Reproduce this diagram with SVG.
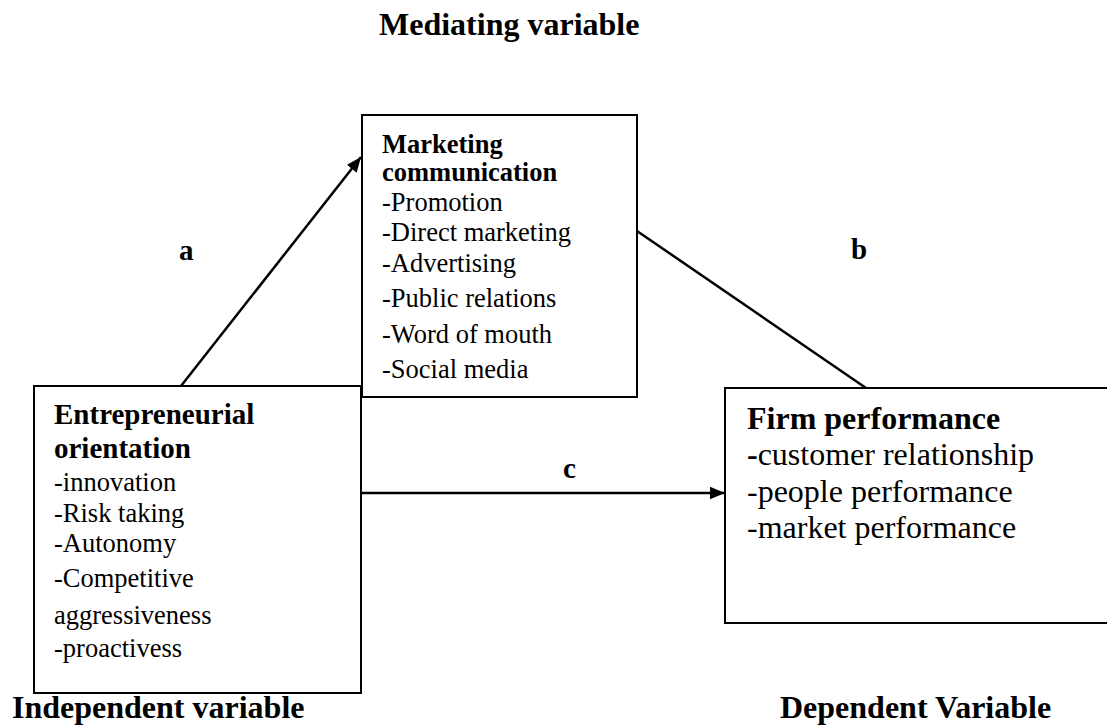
<svg xmlns="http://www.w3.org/2000/svg" width="1107" height="728" viewBox="0 0 1107 728">
<style>
text{font-family:"Liberation Serif","Times New Roman",serif;fill:#000}
.b{font-weight:bold}
.box{fill:#fff;stroke:#000;stroke-width:2}
.ln{stroke:#000;stroke-width:2.5;fill:none}
</style>
<defs>
<marker id="ah" viewBox="0 0 12 10" refX="12" refY="5" markerWidth="6" markerHeight="5" markerUnits="strokeWidth" orient="auto">
<path d="M0,0 L12,5 L0,10 z" fill="#000"/>
</marker>
</defs>
<rect width="1107" height="728" fill="#fff"/>
<text class="b" x="379" y="35" font-size="32">Mediating variable</text>
<g id="connectors">
<line class="ln" x1="181" y1="386" x2="361" y2="157" marker-end="url(#ah)"/>
<line class="ln" x1="637" y1="231" x2="866" y2="388"/>
<line class="ln" x1="361" y1="493" x2="725" y2="493" marker-end="url(#ah)"/>
<text class="b" x="179" y="260" font-size="29">a</text>
<text class="b" x="851" y="259" font-size="29">b</text>
<text class="b" x="563" y="478" font-size="29">c</text>
</g>
<g id="mediator">
<rect class="box" x="362" y="115" width="275" height="282"/>
<text x="382" font-size="26.5"><tspan class="b" x="382" y="153">Marketing</tspan><tspan class="b" x="382" y="181">communication</tspan><tspan x="382" y="211">-Promotion</tspan><tspan x="382" y="241">-Direct marketing</tspan><tspan x="382" y="272">-Advertising</tspan><tspan x="382" y="307">-Public relations</tspan><tspan x="382" y="343">-Word of mouth</tspan><tspan x="382" y="378">-Social media</tspan></text>
</g>
<g id="independent">
<rect class="box" x="34" y="386" width="327" height="307"/>
<text font-size="26.5"><tspan class="b" x="54" y="424" font-size="29">Entrepreneurial</tspan><tspan class="b" x="54" y="458" font-size="29">orientation</tspan><tspan x="54" y="491">-innovation</tspan><tspan x="54" y="522">-Risk taking</tspan><tspan x="54" y="552">-Autonomy</tspan><tspan x="54" y="587">-Competitive</tspan><tspan x="54" y="624">aggressiveness</tspan><tspan x="54" y="657">-proactivess</tspan></text>
<text class="b" x="12" y="718" font-size="32">Independent variable</text>
</g>
<g id="dependent">
<rect class="box" x="725" y="388" width="400" height="235"/>
<text font-size="32"><tspan class="b" x="747" y="429">Firm performance</tspan><tspan x="747" y="465"><tspan class="b">-</tspan>customer relationship</tspan><tspan x="747" y="502">-people performance</tspan><tspan x="747" y="538">-market performance</tspan></text>
<text class="b" x="780" y="718" font-size="32">Dependent Variable</text>
</g>
</svg>
